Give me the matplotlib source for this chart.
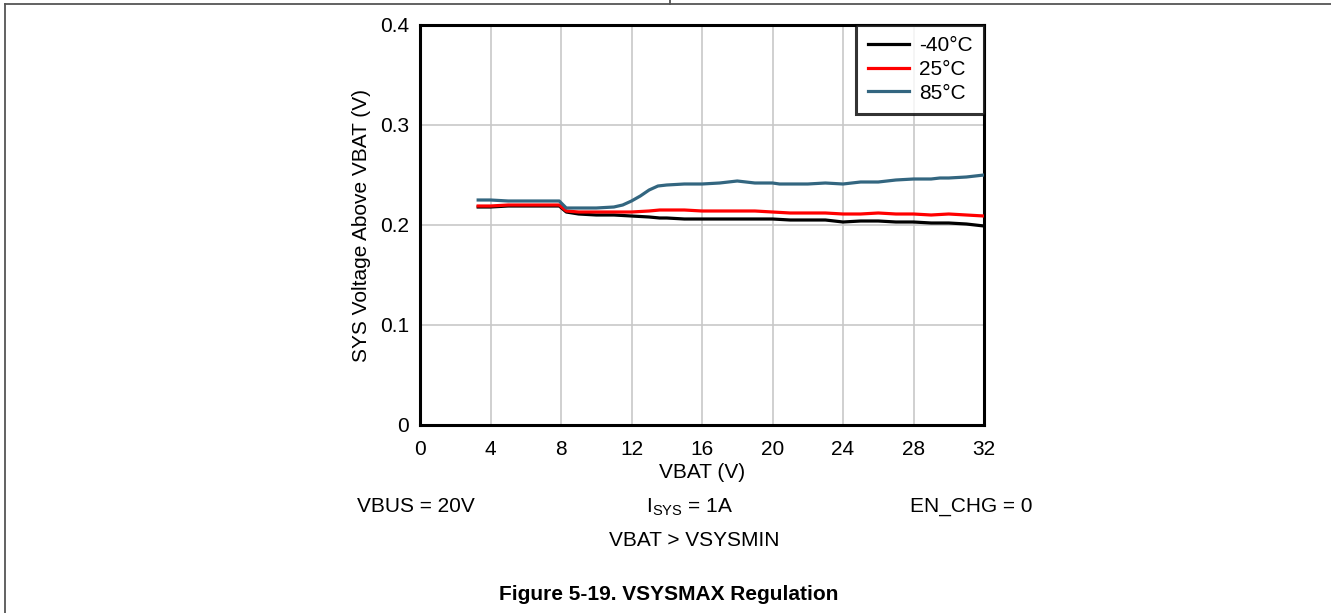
import matplotlib
matplotlib.use("Agg")
import matplotlib.pyplot as plt
from matplotlib.lines import Line2D

plt.rcParams['font.family'] = ['Liberation Sans', 'DejaVu Sans']

# ---- data ----
x_blue = [3.3, 4, 5, 6, 7, 7.9, 8.3, 9, 10, 11, 11.5, 12, 12.5, 13, 13.5, 14, 15, 16, 17, 18, 18.5, 19,
          20, 20.4, 21, 22, 23, 24, 25, 26, 27, 28, 29, 29.5, 30, 31, 32]
y_85 = [0.225, 0.225, 0.224, 0.224, 0.224, 0.224, 0.217, 0.217, 0.217, 0.218, 0.220, 0.224, 0.229,
        0.235, 0.239, 0.240, 0.241, 0.241, 0.242, 0.244, 0.243, 0.242, 0.242, 0.241, 0.241, 0.241,
        0.242, 0.241, 0.243, 0.243, 0.245, 0.246, 0.246, 0.247, 0.247, 0.248, 0.250]

x_other = [3.3, 4, 5, 6, 7, 7.9, 8.3, 9, 10, 11, 12, 13, 13.6, 14, 15, 16, 17, 18, 19, 20, 21, 22,
           23, 24, 25, 26, 27, 28, 29, 30, 31, 32]
y_25 = [0.219, 0.219, 0.220, 0.220, 0.220, 0.220, 0.214, 0.213, 0.213, 0.213, 0.213, 0.214, 0.215,
        0.215, 0.215, 0.214, 0.214, 0.214, 0.214, 0.213, 0.212, 0.212, 0.212, 0.211, 0.211, 0.212,
        0.211, 0.211, 0.210, 0.211, 0.210, 0.209]
y_m40 = [0.218, 0.218, 0.219, 0.219, 0.219, 0.219, 0.213, 0.211, 0.210, 0.210, 0.209, 0.208, 0.207,
         0.207, 0.206, 0.206, 0.206, 0.206, 0.206, 0.206, 0.205, 0.205, 0.205, 0.203, 0.204, 0.204,
         0.203, 0.203, 0.202, 0.202, 0.201, 0.199]

labels = ['-40°C', '25°C', '85°C']
colors = ['#000000', '#ff0000', '#336680']
x_ticks = [0, 4, 8, 12, 16, 20, 24, 28, 32]
y_ticks = [0, 0.1, 0.2, 0.3, 0.4]
y_ticklabels = ['0', '0.1', '0.2', '0.3', '0.4']

FS = 15
W, H = 1331, 613
fig = plt.figure(figsize=(W / 100, H / 100), dpi=100)
ax = fig.add_axes([420 / W, 1 - 425 / H, 564 / W, 400 / H])

ax.plot(x_other, y_m40, color=colors[0], lw=2.3, label=labels[0], zorder=3)
ax.plot(x_other, y_25, color=colors[1], lw=2.3, label=labels[1], zorder=3)
ax.plot(x_blue, y_85, color=colors[2], lw=2.3, label=labels[2], zorder=3)

ax.set_xlim(0, 32)
ax.set_ylim(0, 0.4)
ax.set_xticks(x_ticks)
ax.set_yticks(y_ticks)
ax.set_yticklabels(y_ticklabels)
ax.grid(True, color='#c8c8c8', lw=1.2)
ax.set_axisbelow(True)
ax.tick_params(axis='x', length=0, labelsize=FS, pad=11)
ax.tick_params(axis='y', length=0, labelsize=FS, pad=8)
for s in ax.spines.values():
    s.set_linewidth(2.2)
    s.set_color('black')

ax.set_xlabel('VBAT (V)', fontsize=FS, labelpad=3)
ax.set_ylabel('SYS Voltage Above VBAT (V)', fontsize=FS, labelpad=6)

leg = ax.legend(loc='upper right', fontsize=FS, frameon=True, fancybox=False,
                borderaxespad=0, handlelength=1.95, handletextpad=0.5, labelspacing=0.22,
                borderpad=0.55)
leg.get_frame().set_edgecolor('black')
leg.get_frame().set_linewidth(2.2)

# condition texts
fig.text(416 / W, 1 - 507 / H, 'VBUS = 20V', fontsize=FS, ha='center', va='center')
fig.text(690 / W, 1 - 507 / H, r'I$_{\mathregular{SYS}}$ = 1A', fontsize=FS, ha='center', va='center')
fig.text(971 / W, 1 - 507 / H, 'EN_CHG = 0', fontsize=FS, ha='center', va='center')
fig.text(694 / W, 1 - 540 / H, 'VBAT > VSYSMIN', fontsize=FS, ha='center', va='center')
fig.text(669 / W, 1 - 595 / H, 'Figure 5-19. VSYSMAX Regulation', fontsize=15,
         fontweight='bold', ha='center', va='center')

# frame lines
fig.add_artist(Line2D([5 / W, 1], [1 - 4 / H, 1 - 4 / H], color='#555555', lw=1.3, transform=fig.transFigure))
fig.add_artist(Line2D([5 / W, 5 / W], [0, 1 - 4 / H], color='#555555', lw=1.3, transform=fig.transFigure))
fig.add_artist(Line2D([670 / W, 670 / W], [1 - 4 / H, 1], color='#555555', lw=1.3, transform=fig.transFigure))

fig.savefig('out.png', dpi=100)
